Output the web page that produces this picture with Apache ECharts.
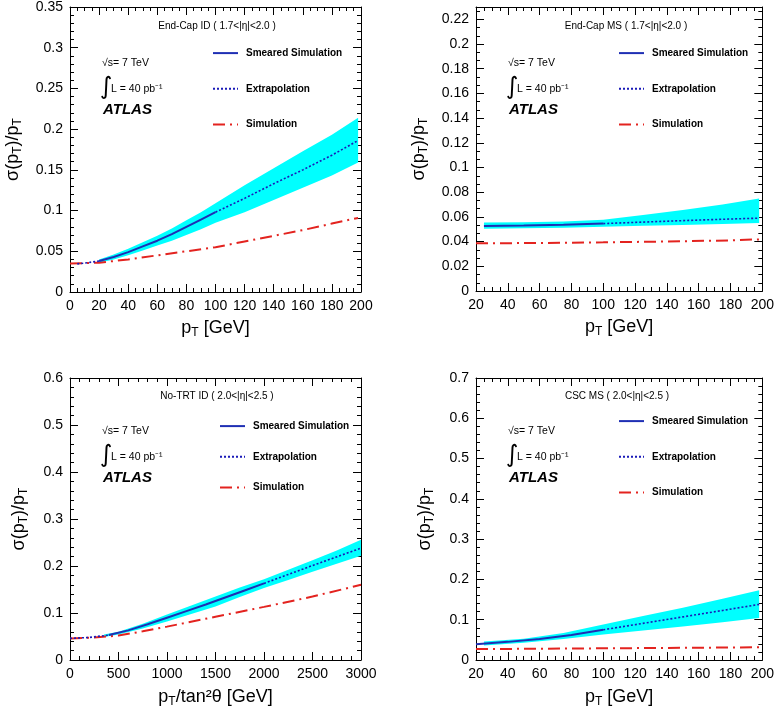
<!DOCTYPE html>
<html>
<head>
    <meta charset="utf-8">
    <title>ECharts</title>
    <script src="https://cdn.jsdelivr.net/npm/echarts@6/dist/echarts.min.js"></script>
    <style>
        body { margin: 0; background: #fff; }
    </style>
</head>
<body>
<div id="main" style="width: 777px;height:715px;"></div>
<script type="text/javascript">
    // ---- End-Cap ID ----
    var simX1 = [0, 20, 40, 60, 80, 100, 120, 140, 160, 180, 198];
    var simY1 = [0.035, 0.036, 0.040, 0.045, 0.050, 0.055, 0.062, 0.069, 0.076, 0.084, 0.091];
    var smearX1 = [20, 30, 40, 50, 60, 70, 80, 90, 100];
    var smearY1 = [0.038, 0.043, 0.049, 0.056, 0.063, 0.071, 0.080, 0.089, 0.098];
    var extrapX1 = [5, 12, 20, null, 100, 120, 140, 160, 180, 198];
    var extrapY1 = [0.0345, 0.036, 0.038, null, 0.098, 0.115, 0.133, 0.150, 0.168, 0.186];
    var bandX1 = [20, 30, 40, 50, 60, 70, 80, 90, 100, 120, 140, 160, 180, 198];
    var bandLo1 = [0.036, 0.040, 0.045, 0.051, 0.057, 0.063, 0.070, 0.077, 0.085, 0.098, 0.113, 0.128, 0.143, 0.159];
    var bandHi1 = [0.040, 0.046, 0.053, 0.061, 0.069, 0.078, 0.088, 0.098, 0.109, 0.131, 0.152, 0.173, 0.193, 0.214];

    // ---- End-Cap MS ----
    var simX2 = [20, 60, 100, 140, 180, 200];
    var simY2 = [0.0386, 0.0389, 0.0394, 0.0401, 0.0410, 0.0419];
    var smearX2 = [25, 50, 75, 100];
    var smearY2 = [0.0527, 0.0530, 0.0537, 0.0546];
    var extrapX2 = [100, 125, 150, 175, 198];
    var extrapY2 = [0.0546, 0.0558, 0.0570, 0.0581, 0.0590];
    var bandX2 = [25, 50, 75, 100, 125, 150, 175, 198];
    var bandLo2 = [0.0505, 0.0508, 0.0512, 0.0520, 0.0528, 0.0535, 0.0543, 0.0550];
    var bandHi2 = [0.0555, 0.0557, 0.0563, 0.0578, 0.0615, 0.0655, 0.0700, 0.0750];

    // ---- No-TRT ID ----
    var simX3 = [0, 250, 500, 750, 1000, 1500, 2000, 2500, 3000];
    var simY3 = [0.046, 0.048, 0.052, 0.061, 0.071, 0.092, 0.113, 0.135, 0.160];
    var smearX3 = [400, 600, 800, 1000, 1200, 1400, 1600, 1800, 2000];
    var smearY3 = [0.053, 0.063, 0.076, 0.090, 0.104, 0.118, 0.133, 0.148, 0.163];
    var extrapX3 = [0, 200, 400, null, 2000, 2500, 3000];
    var extrapY3 = [0.046, 0.048, 0.053, null, 0.163, 0.201, 0.238];
    var bandX3 = [350, 500, 750, 1000, 1250, 1500, 1750, 2000, 2250, 2500, 2750, 3000];
    var bandLo3 = [0.049, 0.054, 0.067, 0.082, 0.098, 0.114, 0.134, 0.153, 0.170, 0.188, 0.205, 0.222];
    var bandHi3 = [0.054, 0.060, 0.077, 0.097, 0.116, 0.135, 0.154, 0.172, 0.192, 0.212, 0.233, 0.256];

    // ---- CSC MS ----
    var simX4 = [20, 60, 100, 140, 180, 200];
    var simY4 = [0.027, 0.028, 0.029, 0.030, 0.031, 0.032];
    var smearX4 = [20, 40, 60, 80, 100];
    var smearY4 = [0.039, 0.045, 0.052, 0.062, 0.075];
    var extrapX4 = [100, 125, 150, 175, 198];
    var extrapY4 = [0.075, 0.091, 0.107, 0.123, 0.138];
    var bandX4 = [25, 50, 75, 100, 125, 150, 175, 198];
    var bandLo4 = [0.036, 0.043, 0.052, 0.063, 0.073, 0.083, 0.094, 0.104];
    var bandHi4 = [0.046, 0.053, 0.067, 0.088, 0.109, 0.130, 0.152, 0.173];

    var panelTitles = ['End-Cap ID ( 1.7<|η|<2.0 )', 'End-Cap MS ( 1.7<|η|<2.0 )',
        'No-TRT ID ( 2.0<|η|<2.5 )', 'CSC MS ( 2.0<|η|<2.5 )'];
    var legendNames = ['Smeared Simulation', 'Extrapolation', 'Simulation'];

    var FONT = '"Liberation Sans", Arial, sans-serif';
    var BLUE = '#1f2fb4';
    var DOTBLUE = '#1a1ab8';
    var RED = '#e3231f';
    var CYAN = '#00ffff';

    var panels = [
        {grid: {left: 70, top: 7, width: 291, height: 285},
            x: {min: 0, max: 200, interval: 20, minor: 4}, y: {min: 0, max: 0.35, interval: 0.05, minor: 5},
            xName: '{a|p}{s|T}{a| [GeV]}', xGap: 27, yGap: 46, titleDx: 147, textDy: 3,
            sim: [simX1, simY1], smear: [smearX1, smearY1], extrap: [extrapX1, extrapY1],
            band: [bandX1, bandLo1, bandHi1], legend: {dx: 142, dy: 40.5, gap: 24.5}},
        {grid: {left: 476, top: 7, width: 290, height: 284},
            x: {min: 20, max: 200, interval: 20, minor: 4}, y: {min: 0, max: 0.23, interval: 0.02, minor: 3},
            xName: '{a|p}{s|T}{a| [GeV]}', xGap: 27, yGap: 46, titleDx: 150, textDy: 3,
            sim: [simX2, simY2], smear: [smearX2, smearY2], extrap: [extrapX2, extrapY2],
            band: [bandX2, bandLo2, bandHi2], legend: {dx: 142, dy: 40.5, gap: 24.5}},
        {grid: {left: 70, top: 378, width: 291, height: 282},
            x: {min: 0, max: 3000, interval: 500, minor: 5}, y: {min: 0, max: 0.6, interval: 0.1, minor: 5},
            xName: '{a|p}{s|T}{a|/tan²θ [GeV]}', xGap: 28, yGap: 40, titleDx: 147, textDy: 0,
            sim: [simX3, simY3], smear: [smearX3, smearY3], extrap: [extrapX3, extrapY3],
            band: [bandX3, bandLo3, bandHi3], legend: {dx: 149, dy: 42.5, gap: 19.5}},
        {grid: {left: 476, top: 378, width: 290, height: 282},
            x: {min: 20, max: 200, interval: 20, minor: 4}, y: {min: 0, max: 0.7, interval: 0.1, minor: 5},
            xName: '{a|p}{s|T}{a| [GeV]}', xGap: 28, yGap: 40, titleDx: 141, textDy: 0,
            sim: [simX4, simY4], smear: [smearX4, smearY4], extrap: [extrapX4, extrapY4],
            band: [bandX4, bandLo4, bandHi4], legend: {dx: 142, dy: 37.5, gap: 24.5}}
    ];

    function pairs(xs, ys) {
        var out = [];
        for (var i = 0; i < xs.length; i++) {
            out.push(xs[i] === null ? '-' : [xs[i], ys[i]]);
        }
        return out;
    }

    var richName = {
        a: {fontSize: 18, fontFamily: FONT, color: '#000', lineHeight: 20, verticalAlign: 'top'},
        s: {fontSize: 12, fontFamily: FONT, color: '#000', lineHeight: 12, padding: [11, 0, 0, 0], verticalAlign: 'bottom'}
    };

    function frameAxis(cfg, gridIndex, pos, main) {
        return {
            type: 'value',
            gridIndex: gridIndex,
            position: pos,
            min: cfg.min,
            max: cfg.max,
            interval: cfg.interval,
            axisLine: {show: true, onZero: false, lineStyle: {color: '#000', width: 1}},
            axisTick: {show: true, inside: true, length: 8, lineStyle: {color: '#000'}},
            minorTick: {show: true, splitNumber: cfg.minor, length: 4, lineStyle: {color: '#000'}},
            splitLine: {show: false},
            axisLabel: {show: main, color: '#000', fontSize: 14, fontFamily: FONT, margin: 7, showMaxLabel: false,
                formatter: function (v) { return String(+v.toFixed(3)); }}
        };
    }

    // band polygon drawn through the axis scales
    function bandRenderer(bx, lo, hi) {
        return function (params, api) {
            if (params.dataIndex !== 0) return;
            var pts = [];
            for (var i = 0; i < bx.length; i++) pts.push(api.coord([bx[i], hi[i]]));
            for (var j = bx.length - 1; j >= 0; j--) pts.push(api.coord([bx[j], lo[j]]));
            return {type: 'polygon', shape: {points: pts}, style: {fill: CYAN}, silent: true};
        };
    }

    var grids = [], xAxes = [], yAxes = [], series = [], legends = [], graphics = [];

    panels.forEach(function (p, k) {
        grids.push(p.grid);
        var xb = frameAxis(p.x, k, 'bottom', true);
        xb.axisLabel.showMaxLabel = true;
        xb.name = p.xName;
        xb.nameLocation = 'middle';
        xb.nameGap = p.xGap;
        xb.nameTextStyle = {rich: richName};
        var xt = frameAxis(p.x, k, 'top', false);
        var yl = frameAxis(p.y, k, 'left', true);
        var ratio = p.y.max / p.y.interval;
        yl.axisLabel.showMaxLabel = Math.abs(ratio - Math.round(ratio)) < 1e-6;
        yl.name = '{a|σ(p}{s|T}{a|)/p}{s|T}';
        yl.nameLocation = 'middle';
        yl.nameGap = p.yGap;
        yl.nameTextStyle = {rich: richName};
        var yr = frameAxis(p.y, k, 'right', false);
        var xi = xAxes.length, yi = yAxes.length;
        xAxes.push(xb, xt);
        yAxes.push(yl, yr);

        var bandData = [];
        for (var i = 0; i < p.band[0].length; i++) {
            bandData.push([p.band[0][i], p.band[1][i], p.band[2][i]]);
        }
        series.push({type: 'custom', name: 'band' + k, xAxisIndex: xi, yAxisIndex: yi, silent: true,
            data: bandData, encode: {x: 0, y: [1, 2]}, z: 1,
            renderItem: bandRenderer(p.band[0], p.band[1], p.band[2])});

        var base = {type: 'line', xAxisIndex: xi, yAxisIndex: yi, symbol: 'none', silent: true, z: 3};
        series.push(Object.assign({}, base, {name: 'Simulation', data: pairs(p.sim[0], p.sim[1]),
            color: RED, lineStyle: {color: RED, width: 2, type: [12, 5, 2, 5]}}));
        series.push(Object.assign({}, base, {name: 'Extrapolation', data: pairs(p.extrap[0], p.extrap[1]),
            color: DOTBLUE, lineStyle: {color: DOTBLUE, width: 1.6, type: [2, 2]}}));
        series.push(Object.assign({}, base, {name: 'Smeared Simulation', data: pairs(p.smear[0], p.smear[1]),
            color: BLUE, lineStyle: {color: BLUE, width: 2}}));

        legends.push({
            data: legendNames,
            orient: 'vertical',
            left: p.grid.left + p.legend.dx,
            top: p.grid.top + p.legend.dy,
            padding: 0,
            itemWidth: 25,
            itemHeight: 14,
            itemGap: p.legend.gap,
            selectedMode: false,
            itemStyle: {opacity: 0},
            textStyle: {fontSize: 10, fontWeight: 'bold', fontFamily: FONT, color: '#000', padding: [0, 0, 0, 3]}
        });

        var gx = p.grid.left, gy = p.grid.top + p.textDy;
        graphics.push(
            {type: 'text', z: 100, x: gx + p.titleDx, y: p.grid.top + 18 + p.textDy / 3,
                style: {text: panelTitles[k], fontSize: 10, fontFamily: FONT, fill: '#000',
                    textAlign: 'center', textVerticalAlign: 'middle'}},
            {type: 'text', z: 100, left: gx + 32, top: gy + 48,
                style: {text: '√s= 7 TeV', fontSize: 10.5, fontFamily: FONT, fill: '#000'}},
            {type: 'text', z: 100, left: gx + 30, top: gy + 66,
                style: {text: '∫', fontSize: 24, fontFamily: '"DejaVu Sans", sans-serif', fill: '#000'}},
            {type: 'text', z: 100, left: gx + 41, top: gy + 74,
                style: {text: 'L = 40 pb⁻¹', fontSize: 10.5, fontFamily: FONT, fill: '#000'}},
            {type: 'text', z: 100, left: gx + 33, top: gy + 92,
                style: {text: 'ATLAS', fontSize: 15, fontWeight: 'bold', fontStyle: 'italic', fontFamily: FONT, fill: '#000'}}
        );
    });

    var myChart = echarts.init(document.getElementById('main'), null, {renderer: 'canvas'});
    myChart.setOption({
        backgroundColor: '#fff',
        animation: false,
        grid: grids,
        xAxis: xAxes,
        yAxis: yAxes,
        legend: legends,
        series: series,
        graphic: graphics
    });
</script>
</body>
</html>
